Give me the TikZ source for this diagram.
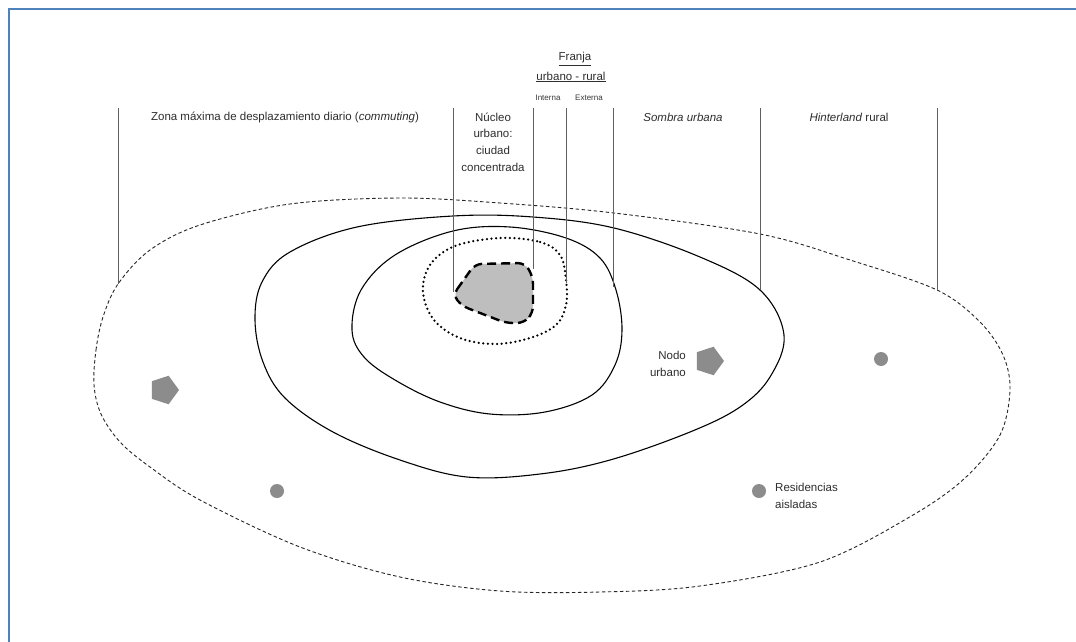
\documentclass[tikz,border=0pt]{standalone}
\usepackage{fontspec}
\setmainfont{Liberation Sans}
\usetikzlibrary{shapes.geometric}
\definecolor{frameblue}{RGB}{79,129,189}
\definecolor{linegray}{RGB}{95,95,95}
\definecolor{dotgray}{RGB}{140,140,140}
\definecolor{coregray}{RGB}{190,190,190}
\begin{document}
\begin{tikzpicture}[x=1pt,y=-1pt,
  lbl/.style={font=\fontsize{11.5}{16.7}\selectfont, inner sep=0pt, text=black!82},
  small/.style={font=\fontsize{8}{9}\selectfont, inner sep=0pt, text=black!78},
  divider/.style={linegray, line width=0.8pt},
  ring/.style={black, line width=1.1pt},
  outerring/.style={black!85, line width=0.9pt, dash pattern=on 3.5pt off 2.5pt},
  dotring/.style={black, line width=2.5pt, line cap=round, dash pattern=on 0pt off 4.6pt},
  corering/.style={black, line width=2.4pt, dash pattern=on 9pt off 5pt, fill=coregray},
  nodeshape/.style={regular polygon, regular polygon sides=5, fill=dotgray, minimum size=30pt, inner sep=0pt, rotate=-90},
  house/.style={circle, fill=dotgray, minimum size=14pt, inner sep=0pt}]
\useasboundingbox (0,0) rectangle (1076,642);
\fill[white] (0,0) rectangle (1076,642);
\draw[frameblue, line width=2.8pt] (9,642) -- (9,9) -- (1076,9);

% outer dashed zone (commuting)
\draw[outerring] plot[smooth cycle, tension=0.55] coordinates {
  (94,385) (96,350) (103,317) (118,284) (150,250) (200,225) (290,204) (400,198)
  (500,203) (614,213) (760,234) (850,260) (937,290) (980,322) (1003,355)
  (1010,390) (1000,435) (965,478) (913,515) (820,562) (700,586) (600,592)
  (500,591) (400,577) (300,547) (200,500) (150,467) (120,442) (101,414)};

% urban shadow (big solid)
\draw[ring] plot[smooth cycle, tension=0.6] coordinates {
  (255,320) (262,282) (290,252) (357,227) (453,216) (533,217) (614,228)
  (700,257) (760,290) (784,335) (770,377) (740,407) (690,432) (610,460)
  (540,474) (467,477) (400,460) (333,432) (285,398) (263,362)};

% external fringe (inner solid)
\draw[ring] plot[smooth cycle, tension=0.6] coordinates {
  (352,330) (361,290) (395,255) (453,231) (510,227) (566,238) (600,258)
  (616,290) (622,330) (615,365) (592,395) (545,412) (490,414) (440,402)
  (395,380) (364,357)};

% internal fringe (dotted)
\draw[dotring] plot[smooth cycle, tension=0.6] coordinates {
  (500,238) (540,242) (560,255) (566,280) (566,305) (556,325) (530,338)
  (495,344) (460,338) (434,320) (423,292) (430,265) (455,246)};

% core
\draw[corering, rounded corners=7pt] (453,295) -- (475,264) -- (525,263)
  -- (533,277) -- (533,313) -- (524,323) -- (506,323) -- (462,306) -- cycle;

% dividers
\draw[divider] (118,108) -- (118,284);
\draw[divider] (453,108) -- (453,292);
\draw[divider] (533,108) -- (533,269);
\draw[divider] (566,108) -- (566,283);
\draw[divider] (613,108) -- (613,287);
\draw[divider] (760,108) -- (760,290);
\draw[divider] (937,108) -- (937,290);

% labels
\node[lbl] (zona) at (285,117) {Zona máxima de desplazamiento diario (\textit{commuting})};
\node[lbl, align=center] (nucleo) at (493,142) {Núcleo\\urbano:\\ciudad\\concentrada};
\node[lbl] (franja) at (575,59) {\underline{Franja}};
\node[lbl] (urbrur) at (571,77) {\underline{urbano - rural}};
\node[small] (interna) at (548,98) {Interna};
\node[small] (externa) at (589,98) {Externa};
\node[lbl] (sombra) at (683,117) {\textit{Sombra urbana}};
\node[lbl] (hinter) at (849,117) {\textit{Hinterland} rural};

% nodes and residences
\node[nodeshape] (nodoL) at (164,390) {};
\node[nodeshape] (nodoR) at (709,361) {};
\node[lbl, align=right, anchor=east] (nodolbl) at (686,364) {Nodo\\urbano};
\node[house] (res1) at (881,359) {};
\node[house] (res2) at (277,491) {};
\node[house] (res3) at (759,491) {};
\node[lbl, align=left, anchor=west] (reslbl) at (775,496) {Residencias\\aisladas};
\end{tikzpicture}
\end{document}
